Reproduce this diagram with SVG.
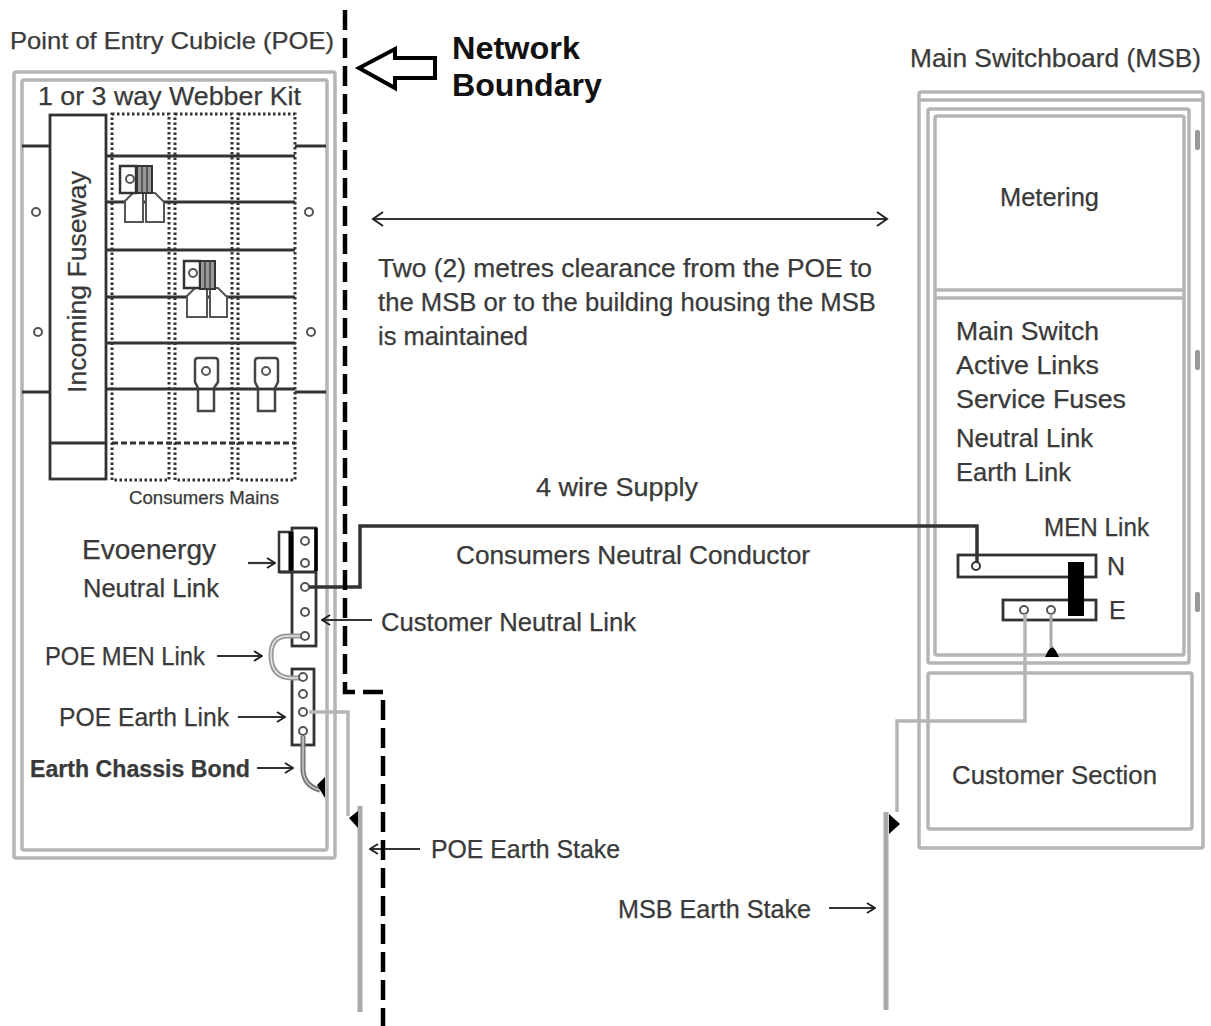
<svg xmlns="http://www.w3.org/2000/svg" width="1211" height="1026" viewBox="0 0 1211 1026">
<defs>
<marker id="ah" viewBox="0 0 12 12" refX="11" refY="6" markerWidth="12" markerHeight="12" markerUnits="userSpaceOnUse" orient="auto-start-reverse"><path d="M3 1L11 6L3 11" fill="none" stroke="#222" stroke-width="2"/></marker>
</defs>
<style>
text{font-family:"Liberation Sans",Arial,sans-serif;fill:#3a3a3a;font-size:25px;stroke:#3a3a3a;stroke-width:.25}
.g{fill:none;stroke:#b5b5b5;stroke-width:3.5}
.k{fill:none;stroke:#333;stroke-width:2.8}
.l{fill:#fff;stroke:#333;stroke-width:2.8}
.d{fill:none;stroke:#333;stroke-width:3;stroke-dasharray:2.5 2.5}
.a{fill:none;stroke:#333;stroke-width:2.2;marker-end:url(#ah)}
.h{fill:#fff;stroke:#555;stroke-width:2}
.c{fill:#fff;stroke:#555;stroke-width:2}
.e{fill:none;stroke:#b5b5b5;stroke-width:3.5}
.b{fill:none;stroke:#000;stroke-width:4.5;stroke-dasharray:20 8}
</style>
<rect width="1211" height="1026" fill="#fff"/>
<g id="poe-cubicle">
<rect class="g" x="14" y="72" width="321" height="786" rx="2"/>
<rect class="g" x="22" y="80" width="305" height="770" rx="2"/>
<text x="10" y="49" style="font-size:24px" textLength="324" lengthAdjust="spacingAndGlyphs">Point of Entry Cubicle (POE)</text>
<text x="38" y="105" textLength="263" lengthAdjust="spacingAndGlyphs">1 or 3 way Webber Kit</text>
<path class="k" d="M22 146H50M295 146H326M22 392H50M295 392H326"/>
<path class="k" d="M106 156H295M106 202H295M106 250H295M106 297H295M106 343H295M106 389H295"/>
<rect class="d" x="112" y="114" width="57" height="366"/>
<rect class="d" x="175" y="114" width="57" height="366"/>
<rect class="d" x="238" y="114" width="57" height="366"/>
<path class="d" d="M112 443H295" style="stroke-dasharray:6 3"/>
<rect class="l" x="50" y="115" width="56" height="364"/>
<path class="k" d="M50 443H106"/>
<text transform="translate(86 393) rotate(-90)" textLength="222" lengthAdjust="spacingAndGlyphs">Incoming Fuseway</text>
<g class="c"><circle cx="36" cy="212" r="4"/><circle cx="309" cy="212" r="4"/><circle cx="38" cy="332" r="4"/><circle cx="311" cy="332" r="4"/></g>
<g id="lug1"><path class="h" d="M125 222V201L133 193H155L164 202V222H146V193H143V222Z"/><rect x="120" y="166" width="16" height="27" fill="#fff" stroke="#333" stroke-width="2.5"/><circle cx="130" cy="179" r="4" class="c"/><rect x="137" y="166" width="15" height="27" fill="#999" stroke="#333" stroke-width="2"/><path d="M142 166V193M147 166V193" stroke="#444" stroke-width="1.5"/></g>
<g id="lug2"><path class="h" d="M187 317V296L195 288H218L227 297V317H210V288H207V317Z"/><rect x="184" y="261" width="16" height="27" fill="#fff" stroke="#333" stroke-width="2.5"/><circle cx="193" cy="273" r="4" class="c"/><rect x="200" y="261" width="15" height="28" fill="#999" stroke="#333" stroke-width="2"/><path d="M205 261V289M210 261V289" stroke="#444" stroke-width="1.5"/></g>
<g id="lug3"><path class="h" d="M195 361Q195 358 198 358H215Q218 358 218 361V382L214 388V411H198V388L195 382Z" style="stroke:#444;stroke-width:2.5"/><path class="k" d="M198 389H214"/><circle cx="206" cy="371" r="4" class="c"/></g>
<g id="lug4"><path class="h" d="M255 361Q255 358 258 358H275Q278 358 278 361V382L275 388V411H258V388L255 382Z" style="stroke:#444;stroke-width:2.5"/><path class="k" d="M258 389H275"/><circle cx="266" cy="371" r="4" class="c"/></g>
<text x="129" y="504" style="font-size:18px" textLength="150" lengthAdjust="spacingAndGlyphs">Consumers Mains</text>
</g>
<g id="msb">
<rect class="g" x="919" y="92" width="284" height="756" rx="2"/>
<path class="g" d="M919 100H1203"/>
<rect class="g" x="928" y="109" width="261" height="554" rx="2"/>
<rect class="g" x="935" y="116" width="249" height="539" rx="2"/>
<path class="g" d="M935 290H1184M935 298H1184"/>
<rect class="g" x="928" y="673" width="264" height="156" rx="2"/>
<g fill="#999"><rect x="1195" y="130" width="5" height="20" rx="2"/><rect x="1195" y="350" width="5" height="20" rx="2"/><rect x="1195" y="592" width="5" height="20" rx="2"/></g>
<text x="910" y="67" textLength="291" lengthAdjust="spacingAndGlyphs">Main Switchboard (MSB)</text>
<text x="1000" y="206" textLength="99" lengthAdjust="spacingAndGlyphs">Metering</text>
<text x="956" y="340" textLength="143" lengthAdjust="spacingAndGlyphs">Main Switch</text>
<text x="956" y="374" textLength="143" lengthAdjust="spacingAndGlyphs">Active Links</text>
<text x="956" y="408" textLength="170" lengthAdjust="spacingAndGlyphs">Service Fuses</text>
<text x="956" y="447" textLength="137" lengthAdjust="spacingAndGlyphs">Neutral Link</text>
<text x="956" y="481" textLength="115" lengthAdjust="spacingAndGlyphs">Earth Link</text>
<text x="1044" y="536" textLength="105" lengthAdjust="spacingAndGlyphs">MEN Link</text>
<text x="1107" y="575">N</text>
<text x="1109" y="619">E</text>
<text x="952" y="784" textLength="205" lengthAdjust="spacingAndGlyphs">Customer Section</text>
<rect class="l" x="958" y="555" width="138" height="22"/>
<rect class="l" x="1003" y="600" width="93" height="20"/>
<rect x="1068" y="562" width="16" height="54" fill="#000"/>
<circle cx="976" cy="566" r="4" class="c" style="stroke:#333"/>
<circle cx="1024" cy="610" r="4" class="c"/>
<circle cx="1051" cy="610" r="4" class="c"/>
<path d="M1045 657Q1047 651 1052 646Q1057 651 1059 657Z" fill="#000"/>
</g>
<g id="poe-links">
<rect x="279" y="532" width="14" height="40" fill="#fff" stroke="#333" stroke-width="2.5"/>
<rect x="292" y="528" width="24" height="118" fill="#fff" stroke="#333" stroke-width="2.8"/>
<path d="M291 532V572" stroke="#000" stroke-width="5"/><path d="M279 572H316" class="k"/><path d="M316 528V571" stroke="#000" stroke-width="3.5"/>
<rect x="292" y="669" width="22" height="76" fill="#fff" stroke="#333" stroke-width="2.8"/>
<path d="M301 636H288Q271 636 271 655Q271 678 292 678H301" fill="none" stroke="#999" stroke-width="5"/>
<path d="M301 636H288Q271 636 271 655Q271 678 292 678H301" fill="none" stroke="#e5e5e5" stroke-width="1.5"/>
<g class="c"><circle cx="305" cy="541" r="4"/><circle cx="305" cy="563" r="4"/><circle cx="305" cy="587" r="4"/><circle cx="305" cy="612" r="4"/><circle cx="305" cy="636" r="4"/><circle cx="303" cy="677" r="4"/><circle cx="303" cy="694" r="4"/><circle cx="303" cy="712" r="4"/><circle cx="303" cy="731" r="4"/></g>
<path d="M303 736V770Q304 786 320 790" fill="none" stroke="#777" stroke-width="5"/>
<path d="M303 736V770Q304 786 320 790" fill="none" stroke="#ccc" stroke-width="1.5"/>
<path d="M317 785L325 777V798Z" fill="#000"/>
</g>
<g id="stakes">
<path d="M360 806V1012" stroke="#aaa" stroke-width="5" fill="none"/>
<path d="M886 812V1010" stroke="#aaa" stroke-width="5" fill="none"/>
<path d="M349 818L358 811V828Z" fill="#000"/>
<path d="M900 824L889 814V834Z" fill="#000"/>
</g>
<g id="connectors">
<path class="k" d="M309 587H360V526H977V562" style="stroke-width:3.5"/>
<path class="e" d="M309 712H348V816"/>
<path class="e" d="M1025 614V721H897V812"/>
<path d="M1051 614V648" stroke="#aaa" stroke-width="3" fill="none"/>
<path class="a" d="M248 563H275"/>
<path class="a" d="M372 620H322"/>
<path class="a" d="M217 656H262"/>
<path class="a" d="M238 717H285"/>
<path class="a" d="M257 768H293"/>
<path class="a" d="M420 849H370"/>
<path class="a" d="M829 908H875"/>
<path class="k" d="M373 219H887" style="stroke-width:1.8"/>
<path d="M383 212L373 219L383 226M877 212L887 219L877 226" fill="none" stroke="#222" stroke-width="2"/>
</g>
<g id="boundary">
<path class="b" d="M345 10V692H383V1026"/>
<path d="M435 58H395V49L359 68L395 88V78H435Z" fill="#fff" stroke="#000" stroke-width="4"/>
<text x="452" y="59" textLength="128" lengthAdjust="spacingAndGlyphs" style="font-size:32px;font-weight:700;fill:#111;stroke:none">Network</text>
<text x="452" y="96" textLength="150" lengthAdjust="spacingAndGlyphs" style="font-size:32px;font-weight:700;fill:#111;stroke:none">Boundary</text>
</g>
<g id="labels">
<text x="378" y="277" textLength="494" lengthAdjust="spacingAndGlyphs">Two (2) metres clearance from the POE to</text>
<text x="378" y="311" textLength="498" lengthAdjust="spacingAndGlyphs">the MSB or to the building housing the MSB</text>
<text x="378" y="345" textLength="150" lengthAdjust="spacingAndGlyphs">is maintained</text>
<text x="536" y="496" textLength="162" lengthAdjust="spacingAndGlyphs">4 wire Supply</text>
<text x="456" y="564" textLength="354" lengthAdjust="spacingAndGlyphs">Consumers Neutral Conductor</text>
<text x="82" y="559" style="font-size:27px" textLength="134" lengthAdjust="spacingAndGlyphs">Evoenergy</text>
<text x="83" y="597" textLength="136" lengthAdjust="spacingAndGlyphs">Neutral Link</text>
<text x="381" y="631" textLength="255" lengthAdjust="spacingAndGlyphs">Customer Neutral Link</text>
<text x="45" y="665" textLength="160" lengthAdjust="spacingAndGlyphs">POE MEN Link</text>
<text x="59" y="726" textLength="170" lengthAdjust="spacingAndGlyphs">POE Earth Link</text>
<text x="30" y="777" style="font-size:23px;font-weight:700" textLength="220" lengthAdjust="spacingAndGlyphs">Earth Chassis Bond</text>
<text x="431" y="858" textLength="189" lengthAdjust="spacingAndGlyphs">POE Earth Stake</text>
<text x="618" y="918" textLength="193" lengthAdjust="spacingAndGlyphs">MSB Earth Stake</text>
</g>
</svg>
